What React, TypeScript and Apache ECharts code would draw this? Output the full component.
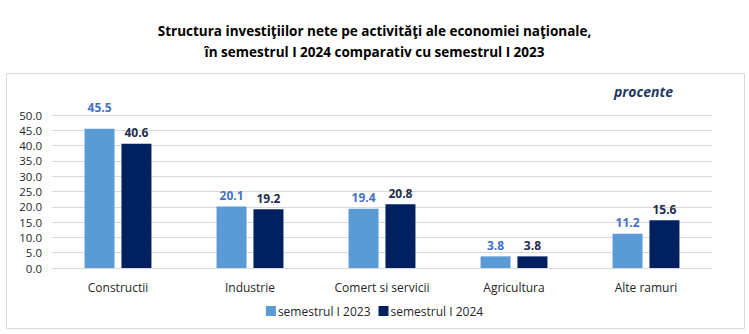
import React, { useEffect, useRef } from "react";
import * as echarts from "echarts";

const categories = ["Constructii", "Industrie", "Comert si servicii", "Agricultura", "Alte ramuri"];
const series2023 = [45.5, 20.1, 19.4, 3.8, 11.2];
const series2024 = [40.6, 19.2, 20.8, 3.8, 15.6];
const seriesNames = ["semestrul I 2023", "semestrul I 2024"];
const titleLines = [
  "Structura investiţiilor nete pe activităţi ale economiei naţionale,",
  "în semestrul I 2024 comparativ cu semestrul I 2023",
];
const unitLabel = "procente";

const FONT = "'Open Sans', 'Noto Sans', sans-serif";

export default function App() {
  const ref = useRef<HTMLDivElement>(null);
  useEffect(() => {
    if (!ref.current) return;
    const chart = echarts.init(ref.current, null, { renderer: "svg" });
    chart.setOption({
      animation: false,
      textStyle: { fontFamily: FONT },
      title: {
        text: titleLines.join("\n"),
        left: "center",
        top: 15,
        textStyle: { fontSize: 13.5, fontWeight: "bold", color: "#000", lineHeight: 21, fontFamily: FONT },
      },
      graphic: [
        {
          type: "rect",
          shape: { x: 6.5, y: 73.5, width: 738, height: 255 },
          style: { fill: "#fff", stroke: "#d9d9d9", lineWidth: 1 },
          z: -10,
        },
        {
          type: "text",
          x: 614,
          y: 84,
          style: {
            text: unitLabel,
            fontSize: 14,
            fontStyle: "italic",
            fontWeight: "bold",
            fill: "#1F3864",
            fontFamily: FONT,
          },
        },
      ],
      legend: {
        bottom: 12,
        left: "center",
        itemWidth: 10,
        itemHeight: 10,
        itemGap: 8,
        icon: "rect",
        textStyle: { fontSize: 12, color: "#262626", padding: [0, 0, 0, -3] },
        data: seriesNames,
      },
      grid: { left: 52, right: 37, top: 115, bottom: 66 },
      xAxis: {
        type: "category",
        data: categories,
        axisTick: { show: false },
        axisLine: { lineStyle: { color: "#d9d9d9" } },
        axisLabel: { fontSize: 12, color: "#262626", margin: 13 },
      },
      yAxis: {
        type: "value",
        min: 0,
        max: 50,
        interval: 5,
        axisLabel: {
          fontSize: 11.5,
          lineHeight: 12,
          color: "#262626",
          margin: 10,
          formatter: (v: number) => v.toFixed(1),
        },
        splitLine: { lineStyle: { color: "#d9d9d9" } },
      },
      series: [
        {
          name: seriesNames[0],
          type: "bar",
          barWidth: 30,
          barGap: "23%",
          itemStyle: { color: "#5B9BD5" },
          data: series2023.map((v, i) =>
            i === 0 ? { value: v, label: { distance: 15 } } : v
          ),
          label: {
            show: true,
            position: "top",
            distance: 5,
            fontSize: 12,
            fontWeight: "bold",
            color: "#4472C4",
            formatter: (p: any) => Number(p.value).toFixed(1),
          },
        },
        {
          name: seriesNames[1],
          type: "bar",
          barWidth: 30,
          itemStyle: { color: "#002060" },
          data: series2024,
          label: {
            show: true,
            position: "top",
            distance: 5,
            fontSize: 12,
            fontWeight: "bold",
            color: "#1F2D50",
            formatter: (p: any) => Number(p.value).toFixed(1),
          },
        },
      ],
    });
    return () => chart.dispose();
  }, []);
  return (
    <div
      ref={ref}
      style={{ position: "absolute", left: 0, top: 0, width: 749, height: 334 }}
    />
  );
}
